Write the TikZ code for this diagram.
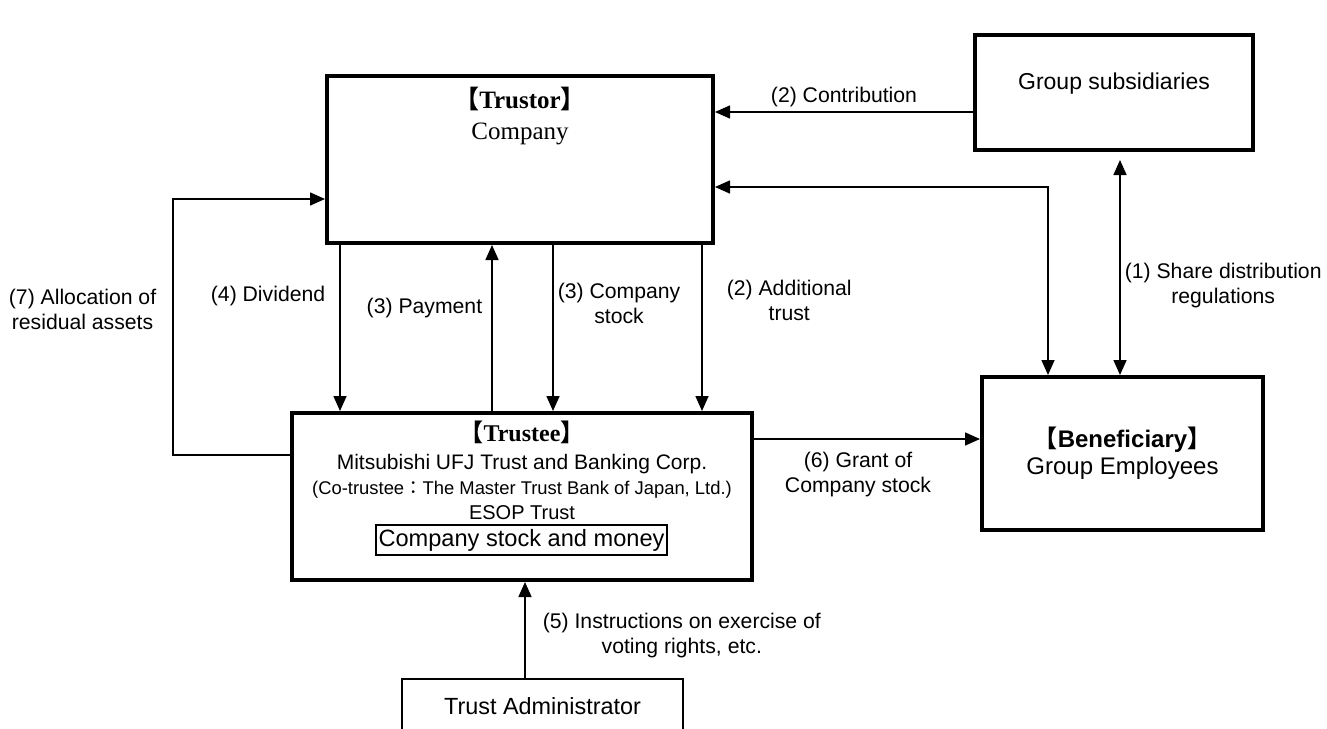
\documentclass[tikz,border=0pt]{standalone}
\usepackage{fontspec}
\setmainfont{Liberation Sans}
\newfontfamily\serifface{Liberation Serif}
\newfontfamily\cjkface{Noto Sans CJK JP}
\usetikzlibrary{arrows.meta}

\newcommand{\lbr}{{\cjkface 【}}
\newcommand{\rbr}{{\cjkface 】}}

\begin{document}
\begin{tikzpicture}[x=0.5pt, y=-0.5pt,
        partybox/.style={draw, line width=2pt, inner sep=0pt},
        thinbox/.style={draw, line width=1pt, inner sep=0pt},
        arrow/.style={line width=0.8pt, -{Triangle[length=7.5pt,width=6.5pt]}},
        twoway/.style={line width=0.8pt, {Triangle[length=7.5pt,width=6.5pt]}-{Triangle[length=7.5pt,width=6.5pt]}},
        flowlabel/.style={align=center, inner sep=2pt, font=\fontsize{10.6}{12.5}\selectfont}
    ]
    \useasboundingbox (0,0) rectangle (1327,728);

    % parties
    \node[partybox, minimum width=193pt, minimum height=83.5pt] (trustor) at (520,159.5) {};
    \node[font=\serifface\fontsize{12.5}{15.5}\selectfont, align=center] (trustortext) at (520,116) {{\bfseries\lbr Trustor\rbr}\\Company};

    \node[partybox, minimum width=139pt, minimum height=57.5pt] (subs) at (1114,92.5) {};
    \node[font=\fontsize{11.5}{13.5}\selectfont] (substext) at (1114,84) {Group subsidiaries};

    \node[partybox, minimum width=140.5pt, minimum height=76.5pt, align=center, font=\fontsize{12}{13.5}\selectfont] (benef) at (1122.5,453.5) {{\bfseries\lbr Beneficiary\rbr}\\Group Employees};

    \node[partybox, minimum width=230pt, minimum height=83.5pt] (trustee) at (522,496.5) {};
    \node[align=center, font=\fontsize{10.5}{12.5}\selectfont] (trusteetext) at (522,470) {{\serifface\bfseries\fontsize{12}{14}\selectfont\lbr Trustee\rbr}\\[1.5pt]
        Mitsubishi UFJ Trust and Banking Corp.\\
        {\fontsize{9.2}{12.5}\selectfont (Co-trustee{\cjkface ：}The Master Trust Bank of Japan, Ltd.)}\\
        {\fontsize{10}{12.5}\selectfont ESOP Trust}};
    \node[thinbox, minimum width=145.5pt, minimum height=15pt, font=\fontsize{11.8}{13}\selectfont] (fund) at (521.5,540) {Company stock and money};

    \node[thinbox, minimum width=140.5pt, minimum height=31pt] (admin) at (542.5,710) {};
    \node[font=\fontsize{11.7}{13}\selectfont] (admintext) at (542.5,706.5) {Trust Administrator};

    % flows between trustor and trustee
    \draw[arrow] (340,0 |- trustor.south) -- node[flowlabel, left, pos=0.31, xshift=-5pt] {(4) Dividend} (340,0 |- trustee.north);
    \draw[arrow] (492,0 |- trustee.north) -- node[flowlabel, left, pos=0.62, xshift=-2.5pt] {(3) Payment} (492,0 |- trustor.south);
    \draw[arrow] (553,0 |- trustor.south) -- node[flowlabel, right, pos=0.35] {(3) Company\\stock} (553,0 |- trustee.north);
    \draw[arrow] (702,0 |- trustor.south) -- node[flowlabel, right, pos=0.335, xshift=10pt] {(2) Additional\\trust} (702,0 |- trustee.north);

    % subsidiaries and employees
    \draw[arrow] (subs.west |- 0,112) -- node[flowlabel, above] {(2) Contribution} (trustor.east |- 0,112);
    \coordinate (empbend) at (1048,187);
    \draw[twoway] (trustor.east |- empbend) -- (empbend) -- (empbend |- benef.north);
    \draw[twoway, shorten <=4pt] (1120,0 |- subs.south) -- node[flowlabel, right, pos=0.6] {(1) Share distribution\\regulations} (1120,0 |- benef.north);

    \draw[arrow] (trustee.east |- 0,439) -- node[flowlabel, below, yshift=-4pt, xshift=-4.5pt] {(6) Grant of\\Company stock} (benef.west |- 0,439);
    \draw[arrow] (525,0 |- admin.north) -- node[flowlabel, right, pos=0.44, xshift=6.5pt] {(5) Instructions on exercise of\\voting rights, etc.} (525,0 |- trustee.south);

    % residual assets back to the company
    \coordinate (backlow) at (173,455);
    \coordinate (backhigh) at (173,199);
    \draw[arrow] (trustee.west |- backlow) -- (backlow) -- node[flowlabel, left, pos=0.57, xshift=-6pt] {(7) Allocation of\\residual assets} (backhigh) -- (trustor.west |- backhigh);
\end{tikzpicture}
\end{document}
